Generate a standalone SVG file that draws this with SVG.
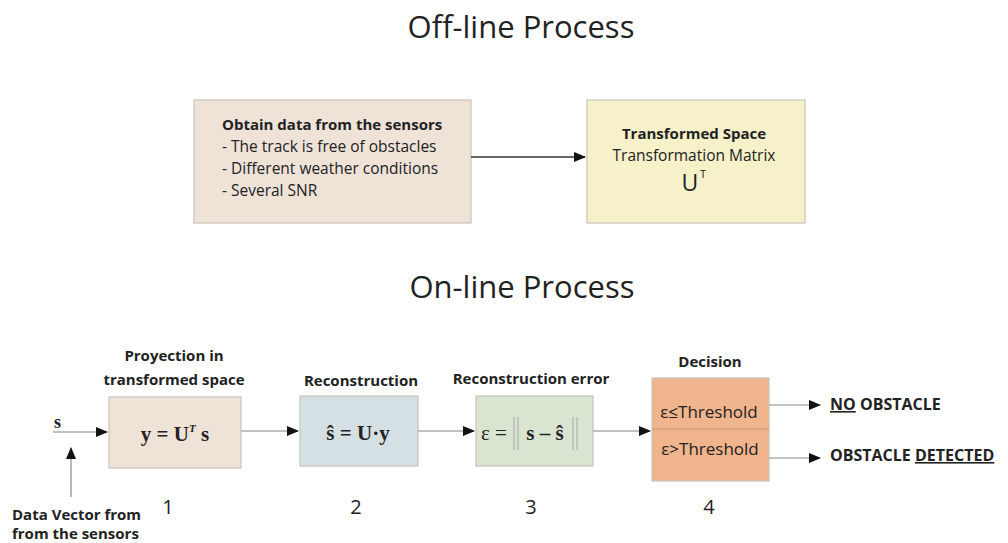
<svg xmlns="http://www.w3.org/2000/svg" width="1008" height="543" viewBox="0 0 1008 543">
<style>
.t{font-family:"Open Sans","Liberation Sans",sans-serif;fill:#222}
.b{font-weight:bold}
.m{font-family:"Liberation Serif","DejaVu Serif",serif;font-weight:bold;fill:#222}
.box{stroke:#c9c4bc;stroke-width:1.2}
.ln{stroke:#888;stroke-width:1.2;fill:none}
.lnd{stroke:#333;stroke-width:1.5;fill:none}
</style>
<defs>
<marker id="ah" markerWidth="12" markerHeight="10" refX="11" refY="5" orient="auto" markerUnits="userSpaceOnUse">
<path d="M0,0 L12,5 L0,10 z" fill="#111"/>
</marker>
</defs>
<rect width="1008" height="543" fill="#fff"/>
<text class="t" x="521" y="38" font-size="31" text-anchor="middle">Off-line Process</text>
<text class="t" x="522" y="298" font-size="31" text-anchor="middle">On-line Process</text>

<g id="obtain">
<rect class="box" x="194" y="100" width="277" height="123" fill="#efe3d8"/>
<text class="t b" x="222" y="130" font-size="15">Obtain data from the sensors</text>
<text class="t" x="222" y="152" font-size="15.5">- The track is free of obstacles</text>
<text class="t" x="222" y="174" font-size="15.5">- Different weather conditions</text>
<text class="t" x="222" y="196" font-size="15.5">- Several SNR</text>
</g>
<g id="transformed">
<rect class="box" x="587" y="100" width="218" height="123" fill="#f6f1c8"/>
<text class="t b" x="694" y="139" font-size="15" text-anchor="middle">Transformed Space</text>
<text class="t" x="694" y="161" font-size="15.5" text-anchor="middle">Transformation Matrix</text>
<text class="t" x="690" y="191" font-size="23" text-anchor="middle">U</text>
<text class="t" x="703" y="178" font-size="11" text-anchor="middle">T</text>
</g>

<g id="proj">
<text class="t b" x="174" y="361" font-size="15" text-anchor="middle">Proyection in</text>
<text class="t b" x="174" y="385" font-size="15" text-anchor="middle">transformed space</text>
<rect class="box" x="109" y="397" width="132" height="71" fill="#efe3d8"/>
<text class="m" x="175" y="441" font-size="21" text-anchor="middle">y = U<tspan font-size="11" font-style="italic" dy="-9">T</tspan><tspan dy="9"> s</tspan></text>
<text class="t" x="168" y="514" font-size="20" text-anchor="middle">1</text>
</g>
<g id="recon">
<text class="t b" x="361" y="386" font-size="15" text-anchor="middle">Reconstruction</text>
<rect class="box" x="300" y="396" width="118" height="70" fill="#d5e0e4"/>
<text class="m" x="358" y="440" font-size="21" text-anchor="middle">ŝ = U·y</text>
<text class="t" x="356" y="514" font-size="20" text-anchor="middle">2</text>
</g>
<g id="error">
<text class="t b" x="531" y="384" font-size="15" text-anchor="middle">Reconstruction error</text>
<rect class="box" x="476" y="396" width="117" height="70" fill="#d9e4d1"/>
<text class="m" x="481" y="440" font-size="21" style="font-weight:normal">ε =</text>
<line x1="514" y1="417" x2="514" y2="450" stroke="#aaa" stroke-width="1"/>
<line x1="518" y1="417" x2="518" y2="450" stroke="#aaa" stroke-width="1"/>
<text class="m" x="545" y="440" font-size="21" text-anchor="middle">s – ŝ</text>
<line x1="573" y1="417" x2="573" y2="450" stroke="#aaa" stroke-width="1"/>
<line x1="577" y1="417" x2="577" y2="450" stroke="#aaa" stroke-width="1"/>
<text class="t" x="531" y="514" font-size="20" text-anchor="middle">3</text>
</g>
<g id="decision">
<text class="t b" x="710" y="367" font-size="15" text-anchor="middle">Decision</text>
<rect class="box" x="652" y="378" width="117" height="103" fill="#f0b58c"/>
<line x1="652" y1="429" x2="769" y2="429" stroke="#c9956f" stroke-width="1.2"/>
<text class="t" x="709" y="418" font-size="17" text-anchor="middle">ε≤Threshold</text>
<text class="t" x="710" y="455" font-size="17" text-anchor="middle">ε&gt;Threshold</text>
<text class="t" x="709" y="514" font-size="20" text-anchor="middle">4</text>
</g>
<g id="outputs">
<text class="t b" x="830" y="410" font-size="16"><tspan text-decoration="underline">NO</tspan> OBSTACLE</text>
<text class="t b" x="830" y="461" font-size="16">OBSTACLE <tspan text-decoration="underline">DETECTED</tspan></text>
</g>
<g id="input">
<text class="m" x="54" y="428" font-size="18">s</text>
<text class="t b" x="12" y="520" font-size="15">Data Vector from</text>
<text class="t b" x="12" y="539" font-size="15">from the sensors</text>
</g>

<g id="connectors">
<line class="lnd" x1="471" y1="157" x2="585" y2="157" marker-end="url(#ah)"/>
<line class="ln" x1="53" y1="432" x2="107" y2="432" marker-end="url(#ah)"/>
<line class="ln" x1="71" y1="497" x2="71" y2="448" marker-end="url(#ah)"/>
<line class="ln" x1="241" y1="431" x2="298" y2="431" marker-end="url(#ah)"/>
<line class="ln" x1="418" y1="431" x2="474" y2="431" marker-end="url(#ah)"/>
<line class="ln" x1="593" y1="431" x2="650" y2="431" marker-end="url(#ah)"/>
<line class="ln" x1="769" y1="405" x2="820" y2="405" marker-end="url(#ah)"/>
<line class="ln" x1="769" y1="458" x2="820" y2="458" marker-end="url(#ah)"/>
</g>
</svg>
